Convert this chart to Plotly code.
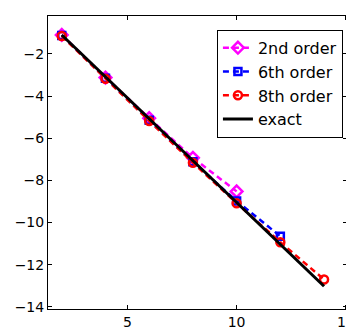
import plotly.graph_objects as go

x2 = [2, 4, 6, 8, 10]
y2 = [-1.10, -3.12, -5.05, -6.93, -8.52]
x6 = [2, 4, 6, 8, 10, 12]
y6 = [-1.12, -3.15, -5.15, -7.12, -8.98, -10.65]
x8 = [2, 4, 6, 8, 10, 12, 14]
y8 = [-1.15, -3.18, -5.18, -7.16, -9.08, -10.93, -12.70]
xe = [2, 4, 6, 8, 10, 12, 14]
ye = [-1.10, -3.09, -5.08, -7.07, -9.05, -11.04, -13.02]

fig = go.Figure()
fig.add_trace(go.Scatter(x=x2, y=y2, name="2nd order", mode="lines+markers",
                         line=dict(color="#ff00ff", width=2.5, dash="6px,4px"),
                         marker=dict(symbol="diamond-open", size=9, color="#ff00ff", line=dict(width=2.5))))
fig.add_trace(go.Scatter(x=x6, y=y6, name="6th order", mode="lines+markers",
                         line=dict(color="#0000ff", width=2.5, dash="6px,4px"),
                         marker=dict(symbol="square-open", size=7, color="#0000ff", line=dict(width=2.5))))
fig.add_trace(go.Scatter(x=x8, y=y8, name="8th order", mode="lines+markers",
                         line=dict(color="#ff0000", width=2.5, dash="6px,4px"),
                         marker=dict(symbol="circle-open", size=8, color="#ff0000", line=dict(width=2.5))))
fig.add_trace(go.Scatter(x=xe, y=ye, name="exact", mode="lines",
                         line=dict(color="black", width=3)))

axis_common = dict(showline=True, linecolor="black", linewidth=1, mirror="ticks",
                   ticks="inside", ticklen=4, tickcolor="black", showgrid=False,
                   zeroline=False, tickfont=dict(family="DejaVu Sans", size=14, color="black"))
fig.update_xaxes(range=[1.37, 15.05], tickvals=[5, 10, 15], **axis_common)
fig.update_yaxes(range=[-14.1, -0.2], tickvals=[-14, -12, -10, -8, -6, -4, -2], **axis_common)

fig.update_layout(
    width=354, height=329,
    margin=dict(l=40, r=8, t=7, b=20),
    paper_bgcolor="white", plot_bgcolor="white",
    font=dict(family="DejaVu Sans", size=15, color="black"),
    legend=dict(x=0.565, y=0.953, xanchor="left", yanchor="top",
                bordercolor="black", borderwidth=1, bgcolor="white",
                font=dict(family="DejaVu Sans", size=16, color="black"),
                tracegroupgap=0),
    showlegend=True,
)
fig.write_html("out.html")
